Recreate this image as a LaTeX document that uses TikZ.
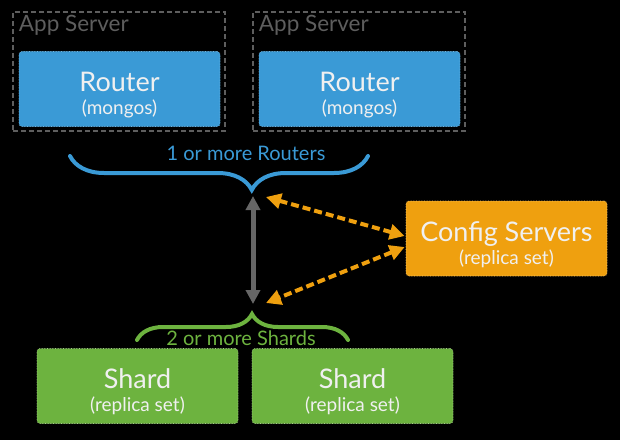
\documentclass[tikz,border=0pt]{standalone}
\usepackage{fontspec}
\setmainfont{Lato}
\usepackage{xcolor}
\usepackage{tikz}
\usetikzlibrary{arrows.meta,positioning,calc,decorations.pathreplacing}
\definecolor{mblue}{HTML}{3A9AD6}
\definecolor{morange}{HTML}{EFA00F}
\definecolor{mgreen}{HTML}{6DB33F}
\definecolor{mgray}{HTML}{666666}
\definecolor{mdash}{HTML}{5E5E5E}
\newcommand{\sub}[1]{{\fontsize{19}{18}\selectfont #1}}
\newcommand{\hdline}[1]{\rule{0pt}{32pt}#1}

\begin{document}
\begin{tikzpicture}[x=1pt, y=1pt,
  box/.style={rounded corners=3pt, minimum width=201pt, minimum height=75pt, align=center,
    text=white!94!black, inner sep=0pt, font=\fontsize{27}{23}\selectfont, densely dotted, line width=.6pt},
  app/.style={draw=mdash, dash pattern=on 5pt off 3pt, line width=2.5pt, minimum width=212pt, minimum height=119pt, inner sep=0pt},
  brc/.style={decorate, line width=4pt, line cap=round},
  dbl/.style={{Triangle[length=14pt,width=14pt]}-{Triangle[length=14pt,width=14pt]}, line width=5pt, mgray},
  cfg/.style={{Triangle[length=15pt,width=15pt]}-{Triangle[length=15pt,width=15pt]}, line width=4pt, morange, dash pattern=on 8pt off 4pt}]
  \fill[black] (0,0) rectangle (620,440);
  % app servers with routers
  \node[app] (appA) at (119,368.5) {};
  \node[app] (appB) at (359,368.5) {};
  \node[anchor=north west, text=mdash, font=\fontsize{22.5}{24}\selectfont, inner sep=0pt] (appAl) at ([shift={(7,-4)}]appA.north west) {App Server};
  \node[anchor=north west, text=mdash, font=\fontsize{22.5}{24}\selectfont, inner sep=0pt] (appBl) at ([shift={(7,-4)}]appB.north west) {App Server};
  \node[box, fill=mblue, draw=mblue!70!white] (routerA) at (119.5,351) {\hdline{Router}\\\sub{(mongos)}};
  \node[box, fill=mblue, draw=mblue!70!white] (routerB) at (359.5,351) {\hdline{Router}\\\sub{(mongos)}};
  % config servers
  \node[box, fill=morange, draw=morange!60!white] (config) at (506.5,201.5) {\hdline{Config Servers}\\\sub{(replica set)}};
  % shards
  \node[box, fill=mgreen, draw=mgreen!60!white] (shardA) at (137.5,54) {\hdline{Shard}\\\sub{(replica set)}};
  \node[box, fill=mgreen, draw=mgreen!60!white] (shardB) at (352.5,54) {\hdline{Shard}\\\sub{(replica set)}};
  % braces
  \coordinate (bL) at (70,284);
  \coordinate (bR) at (368,284);
  \coordinate (gL) at (137,100);
  \coordinate (gR) at (348,100);
  \draw[brc, mblue, decoration={brace, mirror, amplitude=34pt, aspect=0.61}] (bL) -- (bR);
  \draw[brc, mgreen, decoration={brace, amplitude=26pt, aspect=0.545}] (gL) -- (gR);
  \node[text=mblue, font=\fontsize{20}{22}\selectfont] (rlab) at (246,287) {1 or more Routers};
  \node[text=mgreen, font=\fontsize{20}{22}\selectfont] (slab) at (241,101.5) {2 or more Shards};
  % connectors
  \coordinate (rtip) at (253,244);
  \coordinate (stip) at (253,136);
  \coordinate (ca) at (266,243);
  \coordinate (cb) at (266,137);
  \draw[dbl] (rtip) -- (stip);
  \draw[cfg] (ca) -- ([shift={(-1,2.5)}]config.west);
  \draw[cfg] ([shift={(-1,-8.5)}]config.west) -- (cb);
\end{tikzpicture}
\end{document}
